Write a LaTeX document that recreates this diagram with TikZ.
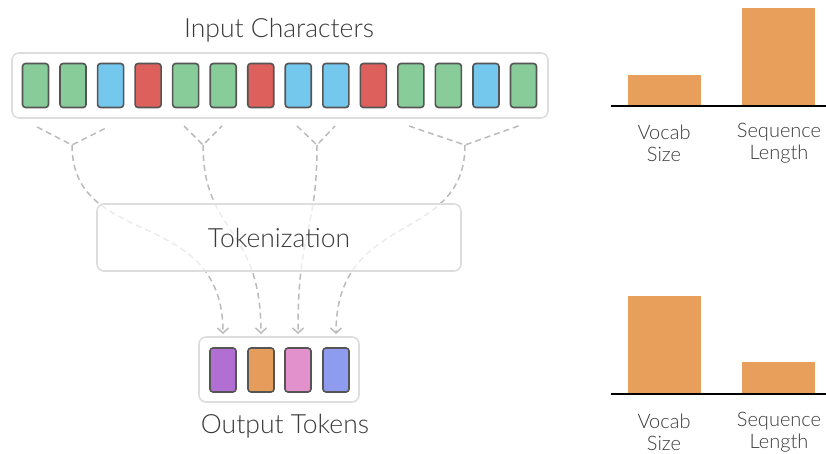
\documentclass[tikz,border=0pt]{standalone}
\usepackage{fontspec}
\setmainfont{Lato}[UprightFont={* Light}]
\usetikzlibrary{arrows.meta}
\definecolor{cgreen}{HTML}{88CC99}
\definecolor{cblue}{HTML}{74C8EE}
\definecolor{cred}{HTML}{DD605C}
\definecolor{cpurple}{HTML}{B26FD3}
\definecolor{corange}{HTML}{E69C5A}
\definecolor{cpink}{HTML}{E291CC}
\definecolor{cperi}{HTML}{8E9BEF}
\definecolor{cbar}{HTML}{E89F5B}
\definecolor{cedge}{HTML}{555555}
\definecolor{cframe}{HTML}{DDDDDD}
\definecolor{cdash}{HTML}{BBBBBB}
\definecolor{ctext}{HTML}{3A3A3A}
\tikzset{
  cell/.style={draw=cedge, line width=1.6pt, rounded corners=3pt, minimum width=26pt, minimum height=44pt, inner sep=0pt},
  frame/.style={draw=cframe, line width=1.6pt, rounded corners=7pt},
  dashln/.style={draw=cdash, line width=1.5pt, dash pattern=on 6pt off 4pt},
  arr/.style={dashln, -{Straight Barb[length=5pt,width=11pt,line width=1.5pt]}},
  lbl/.style={text=ctext, font=\fontsize{26.5}{30}\selectfont},
  axlbl/.style={text=ctext, font=\fontsize{20}{22}\selectfont, align=center},
  bar/.style={fill=cbar, draw=none},
  axis/.style={draw=black, line width=1.6pt}
}
\begin{document}
\begin{tikzpicture}[x=1pt,y=-1pt]
\useasboundingbox (0,0) rectangle (826,454);
% title
\node[lbl] (title) at (279,30) {Input Characters};
% input frame
\draw[frame] (12,53) rectangle (548,118);
\foreach \c [count=\i] in {cgreen,cgreen,cblue,cred,cgreen,cgreen,cred,cblue,cblue,cred,cgreen,cgreen,cblue,cgreen}{
  \node[cell, fill=\c] (in\i) at ({35.5+(\i-1)*37.54},85.5) {};
}
% branch ends and junctions
\coordinate (b1a) at (37,127); \coordinate (b1b) at (108,127); \coordinate (j1) at (72,145);
\coordinate (b2a) at (184,126); \coordinate (b2b) at (222,126); \coordinate (j2) at (203,145);
\coordinate (b3a) at (297,126); \coordinate (b3b) at (335,126); \coordinate (j3) at (317,145);
\coordinate (b4a) at (409,126); \coordinate (b4b) at (521,125); \coordinate (j4) at (465,145);
\foreach \k in {1,2,3,4}{
  \draw[dashln] (b\k a) -- (j\k) -- (b\k b);
}
% output tokens
\draw[frame] (199,337) rectangle (359,402);
\node[cell, fill=cpurple] (o1) at (223,370) {};
\node[cell, fill=corange] (o2) at (261,370) {};
\node[cell, fill=cpink] (o3) at (298,370) {};
\node[cell, fill=cperi] (o4) at (336,370) {};
\coordinate (t1) at (223,334);
\coordinate (t2) at (261,334);
\coordinate (t3) at (298,334);
\coordinate (t4) at (336,334);
% curves
\draw[arr] (j1) .. controls (72,250) and (223,205) .. (t1);
\draw[arr] (j2) .. controls (203,235) and (261,225) .. (t2);
\draw[arr] (j3) .. controls (317,235) and (298,225) .. (t3);
\draw[arr] (j4) .. controls (465,245) and (336,210) .. (t4);
% tokenization box
\node[frame, fill=white, fill opacity=0.72, text opacity=1, minimum width=364pt, minimum height=67pt, lbl] (tok) at (279,237.5) {Tokenization};
\node[lbl] (outlbl) at (285,426) {Output Tokens};
% top bar chart
\fill[bar] (628,106) rectangle (701,75);
\fill[bar] (742,106) rectangle (815,8);
\draw[axis] (611,106) -- (826,106);
\node[axlbl] (v1) at (664,143) {Vocab\\Size};
\node[axlbl] (s1) at (779,143) {Sequence\\Length};
% bottom bar chart
\fill[bar] (628,394) rectangle (701,296);
\fill[bar] (742,394) rectangle (815,362);
\draw[axis] (611,394) -- (826,394);
\node[axlbl] (v2) at (664,432) {Vocab\\Size};
\node[axlbl] (s2) at (779,432) {Sequence\\Length};
\end{tikzpicture}
\end{document}
